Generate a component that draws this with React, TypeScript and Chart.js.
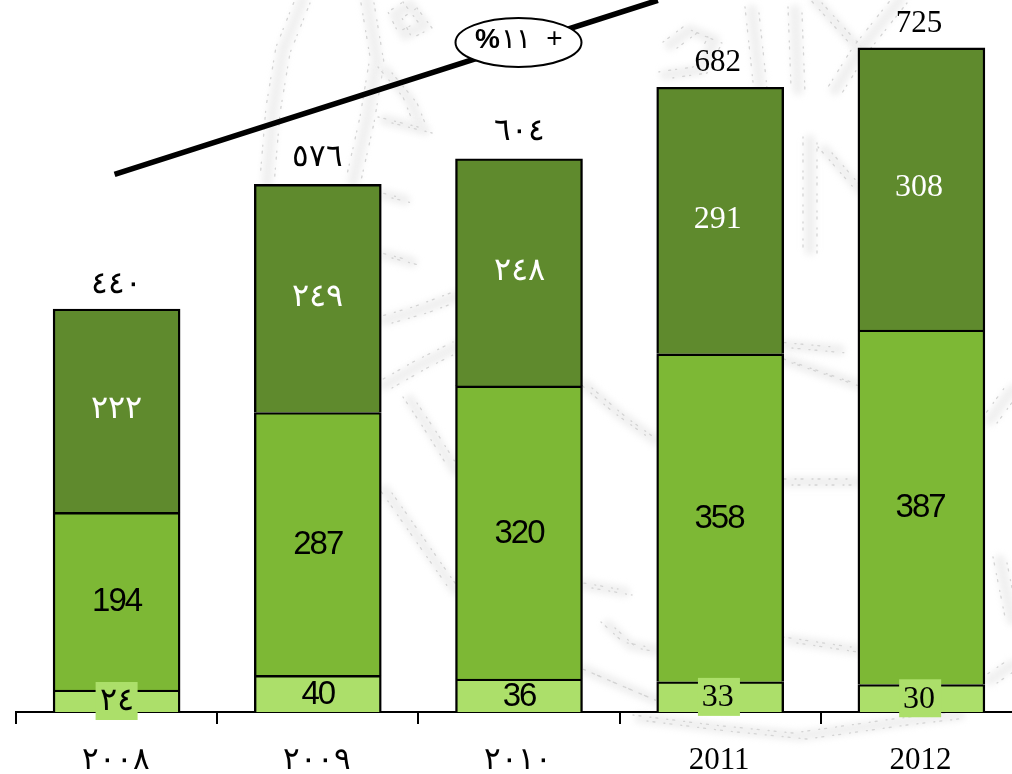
import React, { useEffect, useRef } from "react";
import { Chart, registerables } from "chart.js";

Chart.register(...registerables);

const years = ["٢٠٠٨", "٢٠٠٩", "٢٠١٠", "2011", "2012"];
const lowValues = [24, 40, 36, 33, 30];
const midValues = [194, 287, 320, 358, 387];
const topValues = [222, 249, 248, 291, 308];
const lowLabels = ["٢٤", "40", "36", "33", "30"];
const midLabels = ["194", "287", "320", "358", "387"];
const topLabels = ["٢٢٢", "٢٤٩", "٢٤٨", "291", "308"];
const totalValues = [440, 576, 604, 682, 725];
const totalLabels = ["٤٤٠", "٥٧٦", "٦٠٤", "682", "725"];
const lowBoxed = [true, false, false, true, true];
const growthX = [-0.01, 2.69];
const growthY = [587, 777];

const SERIF = '"Liberation Serif", "Noto Sans", serif';
const SANS = '"Liberation Sans", Arial, sans-serif';

// Faint seal printed behind the chart (background decoration only)
const sealBands: number[][][] = [
  [[303, 0], [283, 50], [273, 110], [267, 182]],
  [[367, 0], [377, 60], [367, 120], [353, 182]],
  [[410, 5], [425, 25], [405, 35], [395, 15], [410, 5]],
  [[385, 70], [410, 100], [420, 125]],
  [[385, 195], [405, 200]],
  [[385, 255], [412, 262]],
  [[385, 320], [420, 310], [460, 295]],
  [[385, 385], [420, 365], [460, 345]],
  [[410, 400], [430, 430], [455, 470]],
  [[385, 490], [420, 540], [455, 590]],
  [[585, 385], [620, 415], [655, 440]],
  [[585, 585], [625, 592]],
  [[608, 625], [630, 645], [655, 650]],
  [[585, 670], [620, 685], [655, 700]],
  [[670, 45], [690, 30], [715, 40], [700, 70], [665, 75]],
  [[752, 10], [760, 85]],
  [[795, 10], [798, 90]],
  [[815, 0], [860, 50]],
  [[900, 0], [860, 50], [835, 90]],
  [[810, 140], [810, 250]],
  [[825, 150], [860, 190]],
  [[785, 345], [840, 350]],
  [[785, 360], [858, 385]],
  [[785, 482], [858, 482]],
  [[790, 640], [858, 650]],
  [[990, 420], [1012, 390]],
  [[1000, 560], [1012, 620]],
  [[990, 680], [1012, 665]],
  [[640, 718], [720, 728], [800, 736], [900, 722], [960, 715]],
  [[385, 120], [425, 130]],
];

const drawSeal = (ctx: CanvasRenderingContext2D) => {
  ctx.save();
  ctx.lineJoin = "round";
  ctx.lineCap = "round";
  const trace = (pts: number[][]) => {
    ctx.beginPath();
    pts.forEach(([px, py], i) => (i ? ctx.lineTo(px, py) : ctx.moveTo(px, py)));
    ctx.stroke();
  };
  sealBands.forEach((pts) => {
    (ctx as any).filter = "blur(3px)";
    ctx.strokeStyle = "#f0f0f0";
    ctx.lineWidth = 11;
    ctx.setLineDash([]);
    trace(pts);
    (ctx as any).filter = "none";
    ctx.strokeStyle = "#d4d4d4";
    ctx.lineWidth = 1.3;
    ctx.setLineDash([1, 5, 2, 9]);
    ctx.save();
    ctx.translate(-7, -3);
    trace(pts);
    ctx.translate(14, 6);
    trace(pts);
    ctx.restore();
  });
  ctx.restore();
};

const overlay = {
  id: "overlay",
  beforeDraw(chart: any) {
    drawSeal(chart.ctx);
  },
  afterDatasetsDraw(chart: any) {
    const { ctx, scales } = chart;
    const x = scales.x;
    const y = scales.y;
    ctx.save();
    ctx.textAlign = "center";
    ctx.textBaseline = "middle";

    const put = (s: string, cx: number, cy: number, color: string, font: string, spacing = "0px") => {
      ctx.font = font;
      (ctx as any).letterSpacing = spacing;
      ctx.fillStyle = color;
      ctx.fillText(s, cx, cy);
      (ctx as any).letterSpacing = "0px";
    };

    years.forEach((_, i) => {
      const cx = x.getPixelForValue(i);
      const latinShift = i >= 3 ? -2.5 : 0;
      const low0 = y.getPixelForValue(0);
      const low1 = y.getPixelForValue(lowValues[i]);
      const mid1 = y.getPixelForValue(lowValues[i] + midValues[i]);
      const top1 = y.getPixelForValue(totalValues[i]);

      if (lowBoxed[i]) {
        ctx.fillStyle = "#ACDF6A";
        ctx.fillRect(cx - 21 + latinShift / 2, (low0 + low1) / 2 - 19, 42, 38);
      }
      if (i === 1 || i === 2) {
        put(lowLabels[i], cx, (low0 + low1) / 2 + 1, "#000", `33px ${SANS}`, "-2px");
      } else {
        put(lowLabels[i], cx + latinShift, (low0 + low1) / 2 + 1, "#000", `32px ${SERIF}`);
      }
      put(midLabels[i], cx + latinShift / 2, (low1 + mid1) / 2 + 1, "#000", `33px ${SANS}`, "-2px");
      put(topLabels[i], cx + latinShift, (mid1 + top1) / 2 - 1, "#fff", `32px ${SERIF}`);
      const lift = i === 1 || i === 2 ? 27 : 24;
      put(totalLabels[i], cx + latinShift, top1 - lift, "#000", `31px ${SERIF}`);
    });

    ctx.beginPath();
    ctx.moveTo(x.getPixelForValue(growthX[0]), y.getPixelForValue(growthY[0]));
    ctx.lineTo(x.getPixelForValue(growthX[1]), y.getPixelForValue(growthY[1]));
    ctx.lineWidth = 5.5;
    ctx.strokeStyle = "#000";
    ctx.stroke();

    const ex = x.getPixelForValue(2) - 0.5;
    const ey = y.getPixelForValue(731);
    ctx.beginPath();
    ctx.ellipse(ex, ey, 63, 24.5, 0, 0, Math.PI * 2);
    ctx.fillStyle = "#fff";
    ctx.fill();
    ctx.lineWidth = 2;
    ctx.stroke();
    put("%", ex - 31, ey - 2, "#000", `bold 28px ${SANS}`);
    put("١١", ex - 3, ey - 2, "#000", `28px ${SERIF}`);
    put("+", ex + 36, ey - 3, "#000", `28px ${SANS}`);
    ctx.restore();
  },
};

export default function App() {
  const ref = useRef<HTMLCanvasElement>(null);
  useEffect(() => {
    document.body.style.margin = "0";
    document.body.style.background = "#fff";
    const chart = new Chart(ref.current!, {
      type: "bar",
      data: {
        labels: years,
        datasets: [
          { label: "low", data: lowValues, backgroundColor: "#ACDF6A" },
          { label: "mid", data: midValues, backgroundColor: "#7DB835" },
          { label: "top", data: topValues, backgroundColor: "#5F8A2D" },
        ].map((d) => ({ ...d, borderColor: "#000", borderWidth: 2.4, barThickness: 127 })),
      },
      options: {
        animation: false,
        responsive: false,
        layout: { padding: { left: 16, right: 2, top: 0, bottom: 0 } },
        plugins: { legend: { display: false }, tooltip: { enabled: false }, title: { display: false } },
        scales: {
          x: {
            stacked: true,
            afterFit(s: any) { s.height = 62; s.paddingLeft = 0; s.paddingRight = 0; },
            border: { color: "#000", width: 2 },
            grid: { drawOnChartArea: false, color: "#000", lineWidth: 2, tickLength: 12, offset: true },
            ticks: { color: "#000", padding: 18, labelOffset: -1, maxRotation: 0, autoSkip: false, font: { family: SERIF, size: 31 } },
          },
          y: { stacked: true, display: false, min: 0, max: 777.3 },
        },
      },
      plugins: [overlay],
    } as any);
    return () => chart.destroy();
  }, []);
  return (
    <div style={{ width: 1012, height: 774, overflow: "hidden", position: "relative" }}>
      <canvas ref={ref} width={1024} height={774} style={{ position: "absolute", left: 0, top: 0, display: "block" }} />
    </div>
  );
}
